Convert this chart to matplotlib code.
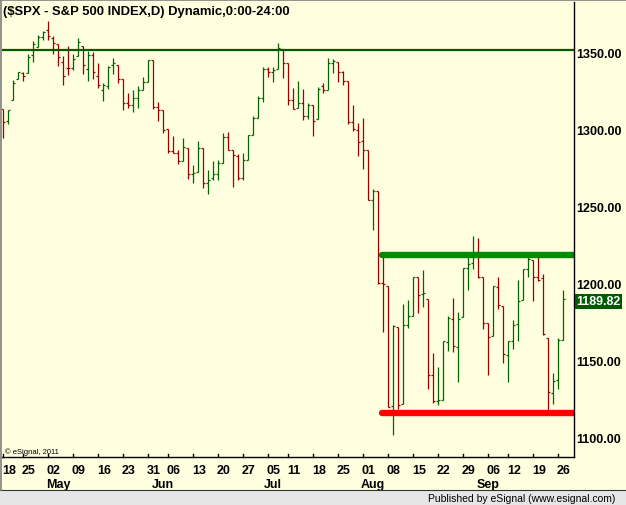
import matplotlib
matplotlib.use('Agg')
import matplotlib.pyplot as plt
import pandas as pd
from matplotlib.patches import Rectangle
from matplotlib.lines import Line2D
from matplotlib.transforms import offset_copy, blended_transform_factory

# -------------------------------------------------------------------------
# Data  ($SPX daily bars, 18 Apr - 27 Sep 2011)
# -------------------------------------------------------------------------
holidays = ['2011-04-22', '2011-05-30', '2011-07-04', '2011-09-05']
days = pd.bdate_range('2011-04-18', '2011-09-27')
days = days[~days.isin(pd.to_datetime(holidays))]

opens = [1313.35, 1305.99, 1319.12, 1333.23, 1337.14, 1336.75, 1348.43, 1353.86, 1360.14,
         1365.21, 1359.76, 1355.90, 1344.16, 1340.24, 1340.20, 1348.34, 1354.51, 1339.39, 1348.69,
         1334.77, 1326.10, 1328.54, 1342.40, 1342.00, 1333.07, 1317.70, 1316.36, 1320.64, 1325.69,
         1331.10, 1345.20, 1314.55, 1312.94, 1300.26, 1286.31, 1284.63, 1279.63, 1288.26,
         1271.31, 1272.22, 1287.87, 1265.53, 1268.58, 1271.50, 1278.40, 1295.48, 1286.60, 1283.04,
         1268.44, 1280.21, 1296.85, 1307.64, 1320.64, 1339.59, 1337.56, 1339.62, 1352.39,
         1343.31, 1319.61, 1314.45, 1317.74, 1308.87, 1315.94, 1307.07, 1328.66, 1325.65, 1343.80,
         1344.32, 1337.39, 1331.91, 1304.84, 1300.12, 1292.59, 1286.56, 1254.25, 1260.23, 1200.28,
         1198.48, 1120.23, 1171.77, 1121.30, 1172.87, 1178.86, 1204.22, 1192.89, 1189.62, 1140.47,
         1123.55, 1124.36, 1162.16, 1176.69, 1158.85, 1177.91, 1209.76, 1213.00, 1219.12, 1203.90,
         1173.97, 1165.85, 1197.98, 1185.37, 1153.50, 1162.59, 1173.32, 1189.44, 1209.21,
         1214.99, 1204.50, 1203.63, 1164.55, 1128.82, 1136.91, 1163.32]
highs = [1313.35, 1312.70, 1332.66, 1337.49, 1337.55, 1349.55, 1357.49, 1361.71, 1364.56,
         1370.58, 1360.84, 1355.90, 1348.00, 1354.36, 1349.44, 1359.44, 1354.51, 1351.05, 1350.47,
         1343.33, 1330.42, 1341.82, 1346.82, 1342.00, 1333.07, 1323.72, 1325.86, 1328.51, 1334.62,
         1345.20, 1345.20, 1318.03, 1312.94, 1300.26, 1296.22, 1287.04, 1294.54, 1288.26,
         1277.04, 1292.50, 1287.87, 1274.11, 1279.82, 1280.42, 1297.62, 1298.61, 1286.60, 1283.93,
         1284.91, 1296.80, 1309.21, 1321.97, 1341.01, 1340.89, 1340.94, 1356.48, 1352.39,
         1343.31, 1327.17, 1331.48, 1326.88, 1317.70, 1315.94, 1328.14, 1330.43, 1347.00, 1346.10,
         1344.32, 1338.51, 1331.91, 1316.32, 1304.16, 1307.38, 1286.56, 1261.20, 1260.23, 1218.11,
         1198.48, 1172.88, 1171.77, 1186.29, 1189.04, 1204.49, 1204.22, 1208.47, 1189.62, 1154.54,
         1145.49, 1162.35, 1178.56, 1190.68, 1181.23, 1210.28, 1220.10, 1230.71, 1229.29, 1203.90,
         1173.97, 1198.62, 1204.40, 1185.37, 1162.52, 1176.41, 1202.38, 1209.11, 1220.06,
         1214.99, 1220.39, 1206.30, 1164.55, 1141.72, 1164.19, 1195.86]
lows = [1294.70, 1303.97, 1319.12, 1332.83, 1331.47, 1336.75, 1344.25, 1353.60, 1358.69,
        1358.59, 1349.52, 1341.50, 1329.17, 1335.58, 1338.64, 1348.34, 1336.36, 1332.03, 1333.36,
        1327.32, 1318.51, 1326.59, 1336.36, 1330.67, 1312.88, 1313.87, 1311.80, 1314.41, 1325.69,
        1331.10, 1313.71, 1305.61, 1297.90, 1284.72, 1284.74, 1277.42, 1279.63, 1268.28,
        1265.64, 1272.22, 1261.90, 1258.07, 1267.40, 1267.56, 1278.40, 1286.79, 1262.87, 1267.24,
        1267.53, 1280.21, 1296.85, 1307.64, 1318.18, 1334.30, 1330.92, 1339.62, 1333.71,
        1316.42, 1313.33, 1314.45, 1306.51, 1307.35, 1295.92, 1307.07, 1323.65, 1325.65, 1336.95,
        1331.09, 1329.10, 1303.49, 1299.16, 1282.86, 1274.73, 1254.03, 1234.56, 1199.54, 1168.09,
        1119.28, 1101.54, 1118.01, 1121.30, 1170.74, 1178.86, 1180.53, 1184.36, 1131.03, 1122.05,
        1121.09, 1124.36, 1156.30, 1155.47, 1135.91, 1177.91, 1195.77, 1209.35, 1203.85, 1170.56,
        1140.13, 1165.85, 1183.34, 1148.37, 1136.07, 1157.44, 1162.73, 1189.44, 1204.46,
        1188.36, 1201.29, 1166.21, 1114.22, 1121.36, 1131.07, 1163.32]
closes = [1305.14, 1312.62, 1330.36, 1337.38, 1335.25, 1347.24, 1355.66, 1360.48, 1363.61,
          1361.22, 1356.62, 1347.32, 1335.10, 1340.20, 1346.29, 1357.16, 1342.08, 1348.65, 1337.77,
          1329.47, 1328.98, 1340.68, 1343.60, 1333.27, 1317.37, 1316.28, 1320.47, 1325.69, 1331.10,
          1345.20, 1314.55, 1312.94, 1300.16, 1286.17, 1284.94, 1279.56, 1289.00, 1270.98,
          1271.83, 1287.87, 1265.42, 1267.64, 1271.50, 1278.36, 1295.52, 1287.14, 1283.50, 1268.45,
          1280.10, 1296.67, 1307.41, 1320.64, 1339.67, 1337.88, 1339.22, 1353.22, 1343.80,
          1319.49, 1313.64, 1317.72, 1308.87, 1316.14, 1305.44, 1326.73, 1325.84, 1343.80, 1345.02,
          1337.43, 1331.94, 1304.89, 1300.67, 1292.28, 1286.94, 1254.05, 1260.34, 1200.07, 1199.38,
          1119.46, 1172.53, 1120.76, 1172.64, 1178.81, 1204.49, 1192.76, 1193.89, 1140.65, 1123.53,
          1123.82, 1162.35, 1177.60, 1159.27, 1176.80, 1210.08, 1212.92, 1218.89, 1204.42, 1173.97,
          1165.24, 1198.62, 1185.90, 1154.23, 1162.27, 1172.87, 1188.68, 1209.11, 1216.01,
          1204.09, 1202.09, 1166.76, 1129.56, 1136.43, 1162.95, 1189.82]

resistance = 1352.0          # long dark green line
range_top = 1218.5           # thick green line
range_bottom = 1115.7        # thick red line
range_start = '2011-08-05'
yticks = [1100, 1150, 1200, 1250, 1300, 1350]
title = '($SPX - S&P 500 INDEX,D) Dynamic,0:00-24:00'

# -------------------------------------------------------------------------
# Figure
# -------------------------------------------------------------------------
W, H = 626, 506
BG = '#FFFFE0'
RED = '#990000'
GREEN = '#006400'
FONT = 'Liberation Sans'

fig = plt.figure(figsize=(W / 100, H / 100), dpi=100)
fig.patch.set_facecolor(BG)
ax = fig.add_axes([2 / W, (H - 458) / H, 572 / W, 455 / H])
ax.set_facecolor(BG)

n = len(closes)
x = list(range(n))
tick = 0.35
for i in x:
    col = GREEN if closes[i] >= opens[i] else RED
    ax.plot([i, i], [lows[i], highs[i]], color=col, lw=0.9, solid_capstyle='butt')
    ax.plot([i - tick, i], [opens[i], opens[i]], color=col, lw=0.9, solid_capstyle='butt')
    ax.plot([i, i + tick], [closes[i], closes[i]], color=col, lw=0.9, solid_capstyle='butt')

ax.set_xlim(-0.2, 114.2)
ax.set_ylim(1087.0, 1383.2)

# trend lines
ax.axhline(resistance, color='#005A00', lw=1.6)
i0 = list(days).index(pd.Timestamp(range_start)) - 0.2
ax.plot([i0, 114.2], [range_top, range_top], color='#008A00', lw=4.6, solid_capstyle='round')
ax.plot([i0, 114.2], [range_bottom, range_bottom], color='#FF0000', lw=4.6, solid_capstyle='round')

# axes look
for s in ['left', 'top']:
    ax.spines[s].set_visible(False)
for s in ['bottom', 'right']:
    ax.spines[s].set_color('black')
    ax.spines[s].set_linewidth(1.0)
ax.set_xticks([])
ax.set_yticks([])

# price labels on right side
ytr = blended_transform_factory(ax.transAxes, ax.transData)
for v in yticks:
    ax.text(1.0, v, '%.2f' % v, transform=offset_copy(ytr, fig, x=2, y=-1.5, units='dots'),
            ha='left', va='center', fontsize=9, fontweight='bold', family=FONT, color='black')
last = closes[-1]
ax.text(1.0, last, '%.2f' % last, transform=offset_copy(ytr, fig, x=2.5, y=-2, units='dots'),
        ha='left', va='center', fontsize=9, fontweight='bold', family=FONT, color='white',
        bbox=dict(boxstyle='square,pad=0.12', fc='#005A00', ec='none'))

# date labels
xtr = blended_transform_factory(ax.transData, ax.transAxes)
prev = None
first_in_month = {}
for i, d in enumerate(days):
    if prev is None or d.weekday() < prev.weekday() or (d - prev).days > 3:
        ax.text(i, 0, d.strftime('%d'), transform=offset_copy(xtr, fig, x=-1, y=-13, units='dots'),
                ha='left', va='center', fontsize=9, fontweight='bold', family=FONT, clip_on=False)
        ax.plot([i, i], [0, 0.006], transform=xtr, color='black', lw=1, clip_on=False)
    if d.month not in first_in_month:
        first_in_month[d.month] = i
    prev = d
for m, i in first_in_month.items():
    if m == 4:
        continue
    ax.text(i + 2, 0, days[i].strftime('%b'), transform=offset_copy(xtr, fig, y=-27, units='dots'),
            ha='center', va='center', fontsize=9, fontweight='bold', family=FONT, clip_on=False)

# title and copyright
fig.text(3 / W, 1 - 12 / H, title, ha='left', va='center', fontsize=9.4, fontweight='bold',
         family=FONT)
fig.text(5 / W, 1 - 452 / H, '\u00a9 eSignal, 2011', ha='left', va='center', fontsize=5.5,
         family=FONT)

# window frame and status bar
fig.add_artist(Rectangle((0, 0), 1, 14 / H, transform=fig.transFigure, fc='#E6E6E6', ec='none'))
fig.add_artist(Line2D([0, 1], [15 / H, 15 / H], transform=fig.transFigure, color='#333333', lw=0.8))
fig.add_artist(Line2D([0.5 / W, 0.5 / W], [15 / H, 1], transform=fig.transFigure, color='#808080', lw=1.2))
fig.add_artist(Line2D([0, 1], [1 - 0.8 / H, 1 - 0.8 / H], transform=fig.transFigure, color='#808080', lw=1.2))
fig.text(615 / W, 7 / H, 'Published by eSignal (www.esignal.com)', ha='right', va='center',
         fontsize=7.5, family=FONT)

fig.savefig('out.png', dpi=100, facecolor=BG)
